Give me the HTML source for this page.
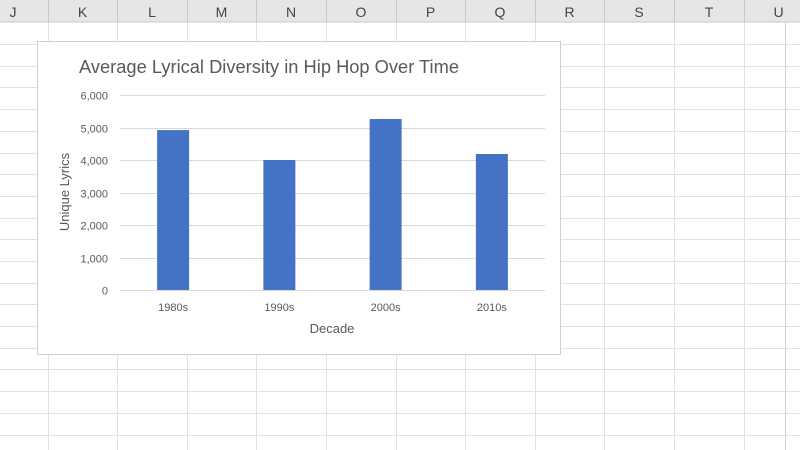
<!DOCTYPE html>
<html><head><meta charset="utf-8"><style>
body{margin:0;width:800px;height:450px;overflow:hidden;background:#fff;font-family:"Liberation Sans",sans-serif}
svg{display:block}
</style></head><body>
<svg id="s" width="800" height="450">
<g id="grid"></g>
<rect x="0" y="0" width="800" height="22" fill="#e6e6e6"/>
<line x1="0" y1="22" x2="800" y2="22" stroke="#c8c8c8"/>
<g id="hdr"></g>
<rect x="37.5" y="41.5" width="523" height="313" fill="#fff" stroke="#d0d0d0"/>
<text x="79" y="73" font-size="18" textLength="380" lengthAdjust="spacingAndGlyphs" fill="#595959">Average Lyrical Diversity in Hip Hop Over Time</text>
<g id="plot"></g>
<text x="332" y="333" font-size="13" fill="#595959" text-anchor="middle">Decade</text>
<text transform="translate(69,192) rotate(-90)" font-size="13" fill="#595959" text-anchor="middle">Unique Lyrics</text>
</svg>
<script>
const categories=["1980s","1990s","2000s","2010s"];
const values=[4920,4000,5260,4185];
const yTicks=[0,1000,2000,3000,4000,5000,6000];
const cols=["J","K","L","M","N","O","P","Q","R","S","T","U"];
const NS="http://www.w3.org/2000/svg";
function mk(t,a,p){const e=document.createElementNS(NS,t);for(const k in a)e.setAttribute(k,a[k]);p.appendChild(e);return e;}
const grid=document.getElementById('grid'),hdr=document.getElementById('hdr'),plot=document.getElementById('plot');
const colEdges=[-22,48,117,187,256,326,396,465,535,604,674,744,813];
for(let i=1;i<colEdges.length-1;i++){
  mk('line',{x1:colEdges[i]+.5,y1:22,x2:colEdges[i]+.5,y2:450,stroke:'#e1e1e1'},grid);
  mk('line',{x1:colEdges[i]+.5,y1:0,x2:colEdges[i]+.5,y2:22,stroke:'#c8c8c8'},hdr);
}
for(let y=44;y<450;y+=21.7) mk('line',{x1:0,y1:Math.round(y)+.5,x2:800,y2:Math.round(y)+.5,stroke:'#e1e1e1'},grid);
mk('line',{x1:785.5,y1:22,x2:785.5,y2:450,stroke:'#d0d0d0'},grid);
cols.forEach((c,i)=>{
  const t=mk('text',{x:(colEdges[i]+colEdges[i+1])/2,y:17,'font-size':14,fill:'#444','text-anchor':'middle'},hdr);
  t.textContent=c;
  
  
});
const x0=120,x1=545,y0=290,yTop=95,yMax=6000;
const ys=v=>y0-(v/yMax)*(y0-yTop);
const band=(x1-x0)/categories.length;
const xs=i=>x0+band*(i+0.5);
yTicks.forEach(v=>{
  const y=Math.round(ys(v))+.5;
  const l=mk('line',{x1:x0,y1:y,x2:x1,y2:y,stroke:'#d9d9d9'},plot);
  
  
  const t=mk('text',{x:108,y:y+4,'font-size':11,fill:'#595959','text-anchor':'end'},plot);
  t.textContent=v.toLocaleString('en-US');
  
  
});
const bw=32;
values.forEach((v,i)=>{
  const r=mk('rect',{x:xs(i)-bw/2,y:ys(v),width:bw,height:ys(0)-ys(v),fill:'#4472c4'},plot);
  
  
  const t=mk('text',{x:xs(i),y:311,'font-size':11,fill:'#595959','text-anchor':'middle'},plot);
  t.textContent=categories[i];
  
  
});
</script>
</body></html>
